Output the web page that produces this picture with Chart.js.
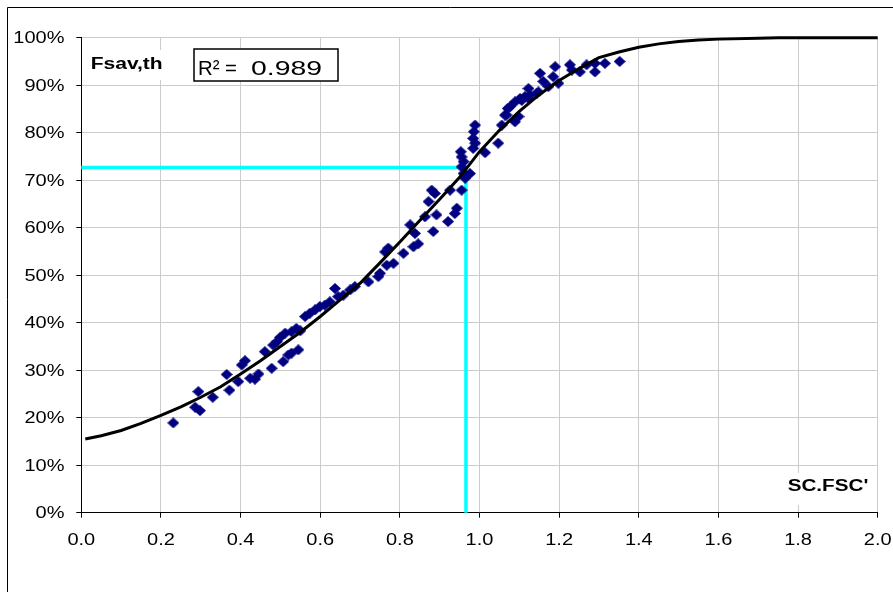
<!DOCTYPE html>
<html>
<head>
<meta charset="utf-8">
<script src="https://cdn.jsdelivr.net/npm/chart.js@4"></script>
<style>
  body { margin: 0; background: #fff; }
  canvas { display: block; }
</style>
</head>
<body>
<canvas id="fsav" width="893" height="592"></canvas>
<script>
"use strict";

/* --- DATA --- */

// fitted theoretical curve (Fsav,th)
const fit_x = [0.01, 0.05, 0.10, 0.15, 0.20, 0.25, 0.30, 0.35, 0.40, 0.45, 0.50, 0.55, 0.60, 0.65, 0.70,
  0.75, 0.80, 0.85, 0.90, 0.95, 1.00, 1.05, 1.10, 1.15, 1.20, 1.25, 1.30, 1.35, 1.40, 1.45,
  1.50, 1.55, 1.60, 1.70, 1.75, 2.00];
const fit_y = [15.5, 16.2, 17.3, 18.8, 20.5, 22.3, 24.3, 26.5, 29.2, 32.0, 35.0, 38.0, 41.3, 44.8, 48.3,
  52.6, 57.0, 61.5, 66.0, 70.6, 76.0, 80.5, 84.5, 88.0, 91.0, 93.5, 95.8, 97.0, 98.0, 98.7,
  99.2, 99.5, 99.7, 99.9, 100, 100];

// observed points
const obs_x = [0.231, 0.286, 0.298, 0.294, 0.330, 0.365, 0.372, 0.394, 0.403, 0.411, 0.424, 0.436, 0.445,
  0.461, 0.478, 0.482, 0.491, 0.507, 0.520, 0.528, 0.545, 0.499, 0.512, 0.528, 0.540, 0.550,
  0.562, 0.574, 0.587, 0.599, 0.612, 0.624, 0.637, 0.645, 0.658, 0.675, 0.687, 0.721, 0.746,
  0.750, 0.767, 0.784, 0.763, 0.771, 0.809, 0.834, 0.846,
  0.826, 0.838, 0.884, 0.863, 0.892, 0.872, 0.880, 0.888, 0.921, 0.938, 0.943, 0.926, 0.955,
  0.964, 0.960, 0.955, 0.960, 0.955, 0.953, 0.976, 0.984, 1.014, 0.989, 0.984, 0.986, 0.989,
  1.047, 1.056, 1.064, 1.068, 1.077, 1.089, 1.089, 1.098, 1.106, 1.114, 1.127, 1.144, 1.071,
  1.102, 1.123, 1.123, 1.148, 1.152, 1.160, 1.173, 1.190, 1.185, 1.198, 1.227, 1.232, 1.252,
  1.269, 1.290, 1.290, 1.315, 1.352];
const obs_y = [18.9, 22.2, 21.5, 25.5, 24.3, 29.1, 25.8, 27.6, 31.1, 32.0, 28.3, 28.1, 29.2,
  33.9, 30.4, 35.3, 36.0, 31.8, 33.2, 33.6, 34.3, 36.9, 37.8, 38.1, 38.8, 38.3,
  41.3, 42.0, 42.7, 43.4, 43.7, 44.4, 47.2, 45.5, 45.8, 46.9, 47.6, 48.6, 49.7,
  50.4, 52.1, 52.5, 54.9, 55.7, 54.6, 56.0, 56.6,
  60.6, 58.8, 59.2, 62.3, 62.7, 65.5, 67.9, 67.2, 61.3, 63.0, 64.1, 67.9, 67.9,
  70.4, 71.4, 72.8, 73.9, 74.9, 76.0, 71.4, 76.7, 75.8, 77.8, 78.8, 80.2, 81.6,
  77.8, 81.6, 83.7, 83.7, 85.5, 86.5, 82.3, 83.4, 86.8, 87.6, 87.9, 88.3, 85.1,
  87.2, 89.3, 87.2, 88.6, 92.5, 90.8, 89.7, 93.9, 91.8, 90.4, 94.3, 93.2, 92.8,
  94.3, 92.8, 94.6, 94.6, 95.0];

// cyan reading lines
const guide_x = [0, 0.966, 0.966];
const guide_y = [72.7, 72.7, 0];

const x_tick_labels = ['0.0', '0.2', '0.4', '0.6', '0.8', '1.0', '1.2', '1.4', '1.6', '1.8', '2.0'];
const y_tick_labels = ['0%', '10%', '20%', '30%', '40%', '50%', '60%', '70%', '80%', '90%', '100%'];
const r2_value = '0.989';

/* --- HELPERS --- */

const FONT = '"Liberation Sans", Arial, sans-serif';
const STRETCH = 1.25;

function pairs(xs, ys) {
  return xs.map((x, i) => ({ x: x, y: ys[i] }));
}

function diamond(w, h, color) {
  const c = document.createElement('canvas');
  c.width = w;
  c.height = h;
  const g = c.getContext('2d');
  g.fillStyle = color;
  g.beginPath();
  g.moveTo(w / 2, 0);
  g.lineTo(w, h / 2);
  g.lineTo(w / 2, h);
  g.lineTo(0, h / 2);
  g.closePath();
  g.fill();
  return c;
}

// text stretched sideways like the original screenshot
function wideText(ctx, text, x, y, align, font, stretch) {
  ctx.save();
  ctx.font = font;
  ctx.textAlign = align;
  ctx.textBaseline = 'alphabetic';
  ctx.translate(x, y);
  ctx.scale(stretch || STRETCH, 1);
  ctx.fillText(text, 0, 0);
  ctx.restore();
}

// text squeezed / stretched into a given width, starting at x
function fitText(ctx, text, x, y, width, font) {
  ctx.save();
  ctx.font = font;
  const w = ctx.measureText(text).width;
  ctx.restore();
  wideText(ctx, text, x, y, 'left', font, width / w);
}

/* --- LABELS / FRAME PLUGIN --- */

const decor = {
  id: 'decor',
  afterDraw(chart) {
    const ctx = chart.ctx;
    const sx = chart.scales.x;
    const sy = chart.scales.y;

    ctx.save();
    ctx.fillStyle = '#000';

    sy.ticks.forEach((t, i) => {
      wideText(ctx, y_tick_labels[i], 64.5, sy.getPixelForValue(t.value) + 5.5, 'right', '16px ' + FONT);
    });
    sx.ticks.forEach((t, i) => {
      wideText(ctx, x_tick_labels[i], sx.getPixelForValue(t.value), 545, 'center', '16px ' + FONT);
    });

    // Fsav,th label
    ctx.fillStyle = '#fff';
    ctx.fillRect(86, 50, 82, 30);
    ctx.fillStyle = '#000';
    fitText(ctx, 'Fsav,th', 90.7, 68.5, 72, 'bold 16px ' + FONT);

    // R² box
    ctx.fillStyle = '#fff';
    ctx.fillRect(194, 49, 144, 32);
    ctx.strokeStyle = '#000';
    ctx.lineWidth = 1.5;
    ctx.strokeRect(194, 49, 144, 32);
    ctx.fillStyle = '#000';
    fitText(ctx, 'R² =', 198, 74.5, 39, '21px ' + FONT);
    fitText(ctx, r2_value, 251, 74.5, 71, '21px ' + FONT);

    // axis title
    ctx.fillStyle = '#fff';
    ctx.fillRect(782, 473, 92, 32);
    ctx.fillStyle = '#000';
    fitText(ctx, "SC.FSC'", 787.7, 491, 80.6, 'bold 16px ' + FONT);

    // outer frame
    ctx.strokeStyle = '#000';
    ctx.lineWidth = 1;
    ctx.beginPath();
    ctx.moveTo(7.5, 592);
    ctx.lineTo(7.5, 7.5);
    ctx.lineTo(893, 7.5);
    ctx.stroke();
    ctx.restore();
  }
};

/* --- CHART --- */

const fsav_canvas = document.getElementById('fsav');

let fsav_chart = new Chart(fsav_canvas, {
  type: 'scatter',
  data: {
    datasets: [{
      label: 'Fsav,th',
      data: pairs(fit_x, fit_y),
      showLine: true,
      borderColor: '#000',
      borderWidth: 3,
      pointRadius: 0,
      tension: 0,
      clip: false
    }, {
      label: 'observed',
      data: pairs(obs_x, obs_y),
      pointStyle: diamond(12, 11, '#000080'),
      pointRadius: 6,
      clip: false
    }, {
      label: 'guide',
      data: pairs(guide_x, guide_y),
      showLine: true,
      borderColor: '#00ffff',
      borderWidth: 3.5,
      pointRadius: 0,
      tension: 0,
      clip: false
    }]
  },
  options: {
    responsive: false,
    animation: false,
    layout: {
      padding: { left: 0, top: 37.7, right: 15.3, bottom: 0 }
    },
    plugins: {
      legend: { display: false },
      tooltip: { enabled: false }
    },
    scales: {
      x: {
        type: 'linear',
        min: 0,
        max: 2,
        ticks: { stepSize: 0.2, display: false },
        grid: { color: '#cccccc', tickColor: '#000', tickLength: 5 },
        border: { color: '#000', width: 1 },
        afterFit(scale) { scale.height = 79.3; }
      },
      y: {
        min: 0,
        max: 100,
        ticks: { stepSize: 10, display: false },
        grid: { color: '#cccccc', tickColor: '#000', tickLength: 5 },
        border: { color: '#000', width: 1 },
        afterFit(scale) { scale.width = 81.3; }
      }
    }
  },
  plugins: [decor]
});
</script>
</body>
</html>
